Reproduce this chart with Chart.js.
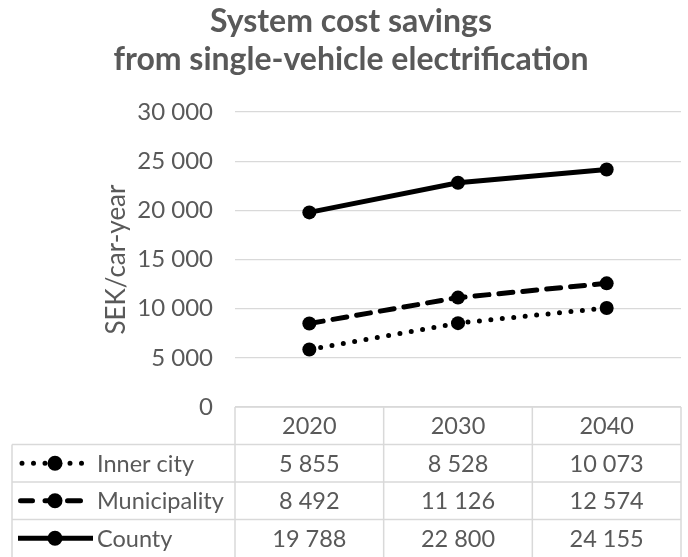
<!DOCTYPE html>
<html>
<head>
<meta charset="utf-8">
<title>System cost savings</title>
<script src="https://cdn.jsdelivr.net/npm/chart.js@4.4.1/dist/chart.umd.min.js"></script>
<style>
  html, body { margin: 0; padding: 0; background: #fff; }
  #wrap { width: 688px; height: 557px; position: relative; }
</style>
</head>
<body>
<div id="wrap"><canvas id="costChart"></canvas></div>
<script>
// data
const years = ["2020", "2030", "2040"];
const seriesNames = ["Inner city", "Municipality", "County"];
const innerCity = [5855, 8528, 10073];
const municipality = [8492, 11126, 12574];
const county = [19788, 22800, 24155];
const yMin = 0;
const yMax = 30000;
const yStep = 5000;
const titleLines = ["System cost savings", "from single-vehicle electrification"];
const yTitle = "SEK/car-year";

const TEXT = "#595959";
const GRID = "#d9d9d9";
const FONT = "Lato";

// swedish style thousands: "30 000"
const fmt = (v) => String(v).replace(/\B(?=(\d{3})+(?!\d))/g, " ");

// line look + the little legend key pieces (x ranges) drawn in the table
const lineStyles = [
  { borderDash: [0, 11.5], borderCapStyle: "round", key: [[22, 46], [70, 82]] },
  { borderDash: [14, 10], borderCapStyle: "round", key: [[20.5, 32.5], [45, 52], [67.5, 80.5]] },
  { borderDash: [], borderCapStyle: "butt", key: [[18, 93]] },
];
const keyMarkerX = 55;

const chartTitle = {
  id: "chartTitle",
  afterDraw(chart) {
    const ctx = chart.ctx;
    ctx.save();
    ctx.fillStyle = TEXT;
    ctx.font = "bold 32px " + FONT;
    ctx.textAlign = "center";
    ctx.textBaseline = "alphabetic";
    ctx.fillText(titleLines[0], 351, 32);
    ctx.fillText(titleLines[1], 351, 70);
    ctx.restore();
  },
};

// excel style data table under the plot
const dataTable = {
  id: "dataTable",
  afterDraw(chart) {
    const ctx = chart.ctx;
    const area = chart.chartArea;
    const xs = chart.scales.x;
    const rowH = 37.5;
    const top = area.bottom;
    const legendLeft = 12;
    const centers = years.map((_, i) => xs.getPixelForValue(i));
    const edges = [area.left];
    for (let i = 0; i < centers.length - 1; i++) edges.push((centers[i] + centers[i + 1]) / 2);
    edges.push(area.right);
    const bottom = top + rowH * 4;

    ctx.save();
    ctx.strokeStyle = GRID;
    ctx.lineWidth = 1.5;
    ctx.beginPath();
    ctx.moveTo(area.left, top);
    ctx.lineTo(area.right, top);
    for (let r = 1; r <= 3; r++) {
      ctx.moveTo(legendLeft, top + rowH * r);
      ctx.lineTo(area.right, top + rowH * r);
    }
    ctx.moveTo(legendLeft, top + rowH);
    ctx.lineTo(legendLeft, bottom);
    edges.forEach((x) => {
      ctx.moveTo(x, top);
      ctx.lineTo(x, bottom);
    });
    ctx.stroke();

    ctx.fillStyle = TEXT;
    ctx.font = "23.5px " + FONT;
    ctx.textAlign = "center";
    ctx.textBaseline = "middle";
    years.forEach((y, i) => ctx.fillText(y, centers[i], top + rowH / 2 + 1));

    chart.data.datasets.forEach((ds, r) => {
      const cy = top + rowH * (r + 1) + rowH / 2;
      ds.data.forEach((v, i) => {
        ctx.fillStyle = TEXT;
        ctx.textAlign = "center";
        ctx.fillText(fmt(v), centers[i], cy + 1);
      });
      // legend key
      ctx.strokeStyle = "#000";
      ctx.lineWidth = ds.borderWidth;
      ctx.lineCap = ds.borderCapStyle;
      // dotted key uses the dash, dashed key pieces are drawn as solid strokes
      ctx.setLineDash(r === 0 ? ds.borderDash : []);
      lineStyles[r].key.forEach(([x0, x1]) => {
        ctx.beginPath();
        ctx.moveTo(x0, cy);
        ctx.lineTo(x1, cy);
        ctx.stroke();
      });
      ctx.setLineDash([]);
      ctx.fillStyle = "#000";
      ctx.beginPath();
      ctx.arc(keyMarkerX, cy, ds.pointRadius + 0.5, 0, Math.PI * 2);
      ctx.fill();
      ctx.fillStyle = TEXT;
      ctx.textAlign = "left";
      ctx.fillText(ds.label, 97, cy + 1);
    });
    ctx.restore();
  },
};

function build() {
  const series = [innerCity, municipality, county];
  const datasets = series.map((data, i) => ({
    label: seriesNames[i],
    data: data,
    borderColor: "#000",
    backgroundColor: "#000",
    borderWidth: 5,
    borderDash: lineStyles[i].borderDash,
    borderCapStyle: lineStyles[i].borderCapStyle,
    pointRadius: 7,
    pointHoverRadius: 7,
    pointBackgroundColor: "#000",
    pointBorderWidth: 0,
    tension: 0,
  }));

  new Chart(document.getElementById("costChart"), {
    type: "line",
    data: { labels: years, datasets: datasets },
    options: {
      responsive: true,
      maintainAspectRatio: false,
      animation: false,
      layout: { padding: { top: 112, bottom: 150, left: 0, right: -11 } },
      plugins: {
        legend: { display: false },
        title: { display: false },
        tooltip: { enabled: false },
      },
      scales: {
        x: { type: "category", offset: true, display: false },
        y: {
          min: yMin,
          max: yMax,
          afterFit: (scale) => { scale.width = 235; },
          border: { display: false },
          grid: { color: GRID, lineWidth: 1.3, drawTicks: false },
          ticks: {
            stepSize: yStep,
            padding: 22,
            color: TEXT,
            font: { family: FONT, size: 24 },
            callback: (v) => fmt(v),
          },
          title: {
            display: true,
            text: yTitle,
            color: TEXT,
            font: { family: FONT, size: 26 },
            padding: { top: 101, bottom: 0 },
          },
        },
      },
    },
    plugins: [chartTitle, dataTable],
  });
}

document.fonts.load("24px Lato").then(() => document.fonts.load("bold 32px Lato")).then(build, build);
</script>
</body>
</html>
